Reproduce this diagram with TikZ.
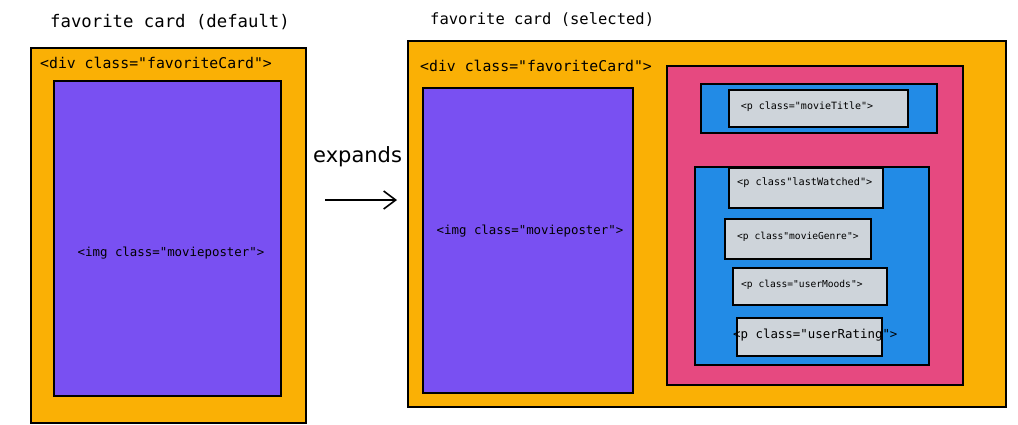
\documentclass[tikz,border=0pt]{standalone}
\usepackage{fontspec}
\setmonofont{DejaVu Sans Mono}
\setsansfont{DejaVu Sans}
\usetikzlibrary{arrows.meta}
\definecolor{cardorange}{HTML}{FAB005}
\definecolor{posterpurple}{HTML}{7950F2}
\definecolor{panelpink}{HTML}{E64980}
\definecolor{groupblue}{HTML}{228BE6}
\definecolor{pgray}{HTML}{CED4DA}
\tikzset{
  box/.style={draw=black, line width=1.8pt, inner sep=0pt, anchor=north west},
  cardbox/.style={box, fill=cardorange},
  posterbox/.style={box, fill=posterpurple},
  pinkbox/.style={box, fill=panelpink},
  bluebox/.style={box, fill=groupblue},
  pbox/.style={box, fill=pgray},
  lbl/.style={font=\ttfamily, inner sep=0pt, text=black},
}
\begin{document}
\begin{tikzpicture}[x=1pt,y=-1pt]
\useasboundingbox (0,0) rectangle (1018,424);
% left card
\node[cardbox, minimum width=275pt, minimum height=375pt] (lcard) at (30,47) {};
\node[posterbox, minimum width=227pt, minimum height=315pt] (lposter) at (53,80) {};
\node[lbl, font=\ttfamily\fontsize{17.3}{20}\selectfont] (ltitle) at (170,22) {favorite card (default)};
\node[lbl, font=\ttfamily\fontsize{14.8}{17}\selectfont, anchor=west] (ldiv) at (40,63) {<div class="favoriteCard">};
\node[lbl, font=\ttfamily\fontsize{12.4}{15}\selectfont] (limg) at (171,253) {<img class="movieposter">};
% arrow
\node[font=\sffamily\fontsize{21}{24}\selectfont, inner sep=0pt, anchor=west] (exp) at (313,157) {expands};
\coordinate (a1) at (325,200);
\coordinate (a2) at (397,200);
\draw[line width=1.6pt, -{Straight Barb[length=12pt,width=18pt,line width=1.6pt]}] (a1) -- (a2);
% right card
\node[cardbox, minimum width=598pt, minimum height=366pt] (rcard) at (407,40) {};
\node[lbl, font=\ttfamily\fontsize{15.5}{18}\selectfont, anchor=west] (rtitle) at (430,20) {favorite card (selected)};
\node[lbl, font=\ttfamily\fontsize{14.8}{17}\selectfont, anchor=west] (rdiv) at (420,66) {<div class="favoriteCard">};
\node[posterbox, minimum width=210pt, minimum height=305pt] (rposter) at (422,87) {};
\node[lbl, font=\ttfamily\fontsize{12.4}{15}\selectfont] (rimg) at (530,231) {<img class="movieposter">};
\node[pinkbox, minimum width=296pt, minimum height=319pt] (pink) at (666,65) {};
\node[bluebox, minimum width=236pt, minimum height=49pt] (blue1) at (700,83) {};
\node[pbox, minimum width=179pt, minimum height=37pt] (p1) at (728,89) {};
\node[lbl, font=\ttfamily\fontsize{10}{12}\selectfont] (t1) at (807,107) {<p class="movieTitle">};
\node[bluebox, minimum width=234pt, minimum height=198pt] (blue2) at (694,166) {};
\node[pbox, minimum width=154pt, minimum height=40pt] (p2) at (728,167) {};
\node[lbl, font=\ttfamily\fontsize{10.2}{12}\selectfont, anchor=west] (t2) at (737,183) {<p class"lastWatched">};
\node[pbox, minimum width=146pt, minimum height=40pt] (p3) at (724,218) {};
\node[lbl, font=\ttfamily\fontsize{9.6}{12}\selectfont, anchor=west] (t3) at (737,237) {<p class"movieGenre">};
\node[pbox, minimum width=154pt, minimum height=37pt] (p4) at (732,267) {};
\node[lbl, font=\ttfamily\fontsize{9.6}{12}\selectfont, anchor=west] (t4) at (741,285) {<p class="userMoods">};
\node[pbox, minimum width=145pt, minimum height=38pt] (p5) at (736,317) {};
\node[lbl, font=\ttfamily\fontsize{12.4}{15}\selectfont, anchor=west] (t5) at (733,335) {<p class="userRating">};
\end{tikzpicture}
\end{document}
